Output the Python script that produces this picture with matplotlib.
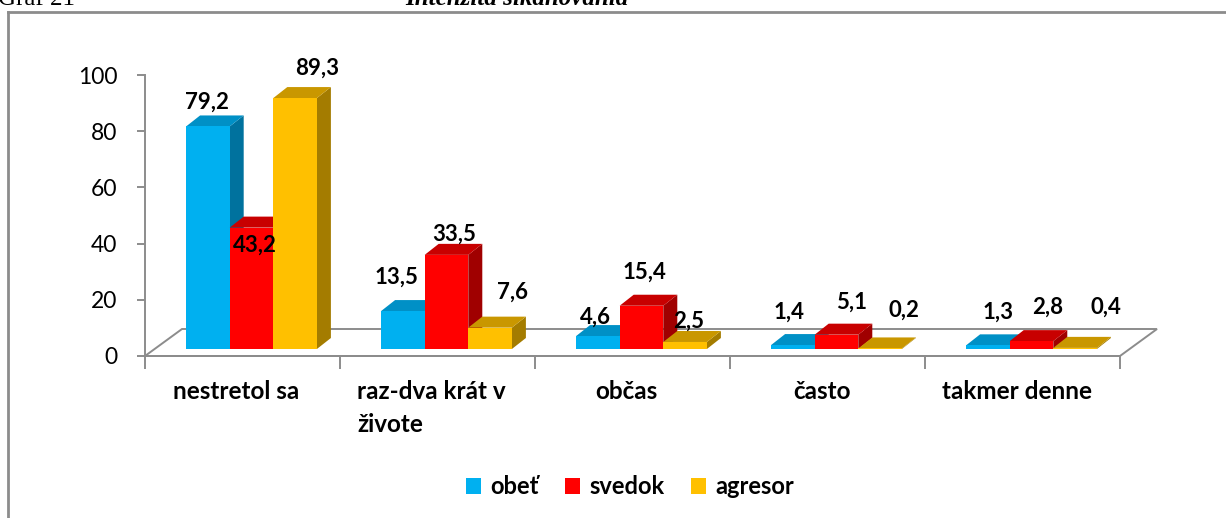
import matplotlib
matplotlib.use("Agg")
import matplotlib.pyplot as plt
from matplotlib.patches import Polygon, Patch
from matplotlib.transforms import IdentityTransform
from matplotlib.lines import Line2D

plt.rcParams['font.family'] = ['Lato', 'DejaVu Sans']

categories = ['nestretol sa', 'raz-dva krát v\nživote', 'občas', 'často', 'takmer denne']
series_names = ['obeť', 'svedok', 'agresor']
obet = [79.2, 13.5, 4.6, 1.4, 1.3]
svedok = [43.2, 33.5, 15.4, 5.1, 2.8]
agresor = [89.3, 7.6, 2.5, 0.2, 0.4]
yticks = [0, 20, 40, 60, 80, 100]

# colours: front, top, side
colors = [('#00B0F0', '#0090C6', '#00729E'),
          ('#FF0000', '#C80000', '#A00000'),
          ('#FFC000', '#C99700', '#A47C00')]

# label nudges in pixels (dx right, dy down) from the top-front centre of each bar
label_nudge = [
    [(-1, -24), (-6, -34), (-2, -19), (-4, -33), (10, -33)],
    [(3, 18), (8, -21), (3, -34), (15, -32), (16, -34)],
    [(22, -30), (22, -35), (4, -21), (24, -38), (31, -41)],
]

W, H = 1226, 518
fig = plt.figure(figsize=(W / 100, H / 100), dpi=100)
ax = fig.add_axes([145 / W, 1 - 356 / H, 975 / W, 281 / H])
ax.set_xlim(0, 5)
ax.set_ylim(0, 100)
ax.patch.set_visible(False)

gray = '#8C8C8C'
for s in ['top', 'right']:
    ax.spines[s].set_visible(False)
for s in ['left', 'bottom']:
    ax.spines[s].set_color(gray)
    ax.spines[s].set_linewidth(1.4)
ax.set_yticks(yticks)
ax.set_yticklabels([str(t) for t in yticks], fontsize=16.5)
ax.set_xticks(range(6))
ax.set_xticklabels([])
ax.tick_params(axis='y', length=6, width=1.4, color=gray, pad=14)
ax.tick_params(axis='x', length=9, width=1.4, color=gray)

ident = IdentityTransform()


def px(x, y, dx=0, dy=0):
    X, Y = ax.transData.transform((x, y))
    return (X + dx, Y + dy)


# floor
fd = (37, 27)
floor = [px(0, 0), px(5, 0), px(5, 0, *fd), px(0, 0, *fd)]
ax.add_patch(Polygon(floor, closed=True, facecolor='white', edgecolor=gray,
                     linewidth=1.4, transform=ident, clip_on=False, zorder=1))

# bars
front = (9.5, 7)
depth = (14, 11)
start = 0.162
bw = 0.2236
data = [obet, svedok, agresor]
for i in range(len(categories)):
    for j, vals in enumerate(data):
        v = vals[i]
        x0 = i + start + j * bw
        x1 = x0 + bw
        fc, tc, sc = colors[j]
        fx, fy = front
        bl = px(x0, 0, fx, fy)
        br = px(x1, 0, fx, fy)
        tl = px(x0, v, fx, fy)
        tr = px(x1, v, fx, fy)
        dx, dy = depth
        tlb = (tl[0] + dx, tl[1] + dy)
        trb = (tr[0] + dx, tr[1] + dy)
        brb = (br[0] + dx, br[1] + dy)
        ax.add_patch(Polygon([br, tr, trb, brb], closed=True, facecolor=sc,
                             edgecolor='none', transform=ident, clip_on=False, zorder=3))
        ax.add_patch(Polygon([tl, tr, trb, tlb], closed=True, facecolor=tc,
                             edgecolor='none', transform=ident, clip_on=False, zorder=3))
        ax.add_patch(Polygon([bl, br, tr, tl], closed=True, facecolor=fc,
                             edgecolor='none', transform=ident, clip_on=False, zorder=3))
        nx, ny = label_nudge[j][i]
        lx = (tl[0] + tr[0]) / 2 + nx
        ly = tl[1] - ny
        ax.text(lx, ly, f'{v:.1f}'.replace('.', ','), transform=ident,
                ha='center', va='center', fontsize=16, fontweight='bold',
                zorder=5, clip_on=False)

# category labels
for i, cat in enumerate(categories):
    X, Y = px(i + 0.5, 0)
    ax.text(X - 6, Y - 24, cat, transform=ident, ha='center', va='top',
            fontsize=17.5, fontweight='bold', multialignment='left',
            linespacing=1.5, clip_on=False)

# legend
handles = [Patch(facecolor=c[0], edgecolor='none') for c in colors]
fig.legend(handles, series_names, loc='center', bbox_to_anchor=(0.514, 1 - 487 / H),
           ncol=3, frameon=False, prop={'size': 17, 'weight': 'bold'},
           handlelength=0.65, handleheight=0.65, handletextpad=0.4,
           columnspacing=1.1)

# chart frame (cut by the page crop on the right and bottom)
fig.add_artist(Line2D([8 / W, 8 / W], [0, 1 - 12 / H], color=gray, lw=2))
fig.add_artist(Line2D([8 / W, 1], [1 - 12 / H, 1 - 12 / H], color=gray, lw=2))

# page text above the chart (cropped at the top in the original too)
fig.text(-2 / W, 1 - 5 / H, 'Graf 21', family='Liberation Serif', fontsize=18,
         va='baseline', ha='left')
fig.text(405 / W, 1 - 5 / H, 'Intenzita šikanovania', family='Liberation Serif',
         fontsize=18, style='italic', fontweight='bold', va='baseline', ha='left')

fig.savefig('out.png', dpi=100)
